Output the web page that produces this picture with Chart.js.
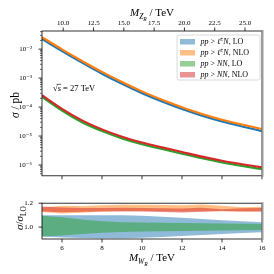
<!DOCTYPE html>
<html>
<head>
<meta charset="utf-8">
<script src="https://cdn.jsdelivr.net/npm/chart.js@4.4.1/dist/chart.umd.min.js"></script>
<style>
  html, body { margin: 0; padding: 0; background: #fff; }
  #wrap { position: relative; width: 274px; height: 274px; }
  #main { position: absolute; left: 0; top: 0; }
  #ratio { position: absolute; left: 0; top: 190px; }
</style>
</head>
<body>
<div id="wrap">
  <canvas id="main" width="274" height="190"></canvas>
  <canvas id="ratio" width="274" height="84"></canvas>
</div>
<script>
// M_WR in TeV (bottom axis); top axis shows M_ZR = zPerW * M_WR
const massWR = [5, 6, 7, 8, 9, 10, 11, 12, 13, 14, 15, 16];
const zPerW = 1.65;

// cross sections in pb
const xsecLepLO  = [2.24e-2, 8.5e-3, 3.4e-3, 1.41e-3, 6.3e-4, 3.0e-4, 1.55e-4, 8.5e-5, 5.0e-5, 3.16e-5, 2.14e-5, 1.48e-5];
const xsecLepNLO = [2.58e-2, 9.8e-3, 3.9e-3, 1.63e-3, 7.3e-4, 3.47e-4, 1.79e-4, 9.9e-5, 5.8e-5, 3.68e-5, 2.5e-5, 1.74e-5];
const xsecNNLO   = [2.23e-4, 7.6e-5, 3.0e-5, 1.48e-5, 8.3e-6, 5.2e-6, 3.55e-6, 2.45e-6, 1.7e-6, 1.23e-6, 9.3e-7, 7.2e-7];
const xsecNNNLO  = [2.57e-4, 8.7e-5, 3.47e-5, 1.7e-5, 9.5e-6, 6.0e-6, 4.07e-6, 2.82e-6, 1.95e-6, 1.41e-6, 1.07e-6, 8.3e-7];

// ratio bands sigma / sigma_LO
const bandLepLOHi  = [1.100, 1.100, 1.100, 1.100, 1.100, 1.095, 1.087, 1.078, 1.068, 1.058, 1.048, 1.040];
const bandLepLOLo  = [0.920, 0.913, 0.908, 0.906, 0.907, 0.910, 0.917, 0.925, 0.933, 0.942, 0.950, 0.957];
const bandLepNLOHi = [1.165, 1.178, 1.176, 1.183, 1.186, 1.186, 1.184, 1.183, 1.190, 1.178, 1.167, 1.170];
const bandLepNLOLo = [1.126, 1.114, 1.119, 1.130, 1.135, 1.135, 1.133, 1.130, 1.133, 1.132, 1.130, 1.130];
const bandNNLOHi   = [1.094, 1.083, 1.063, 1.049, 1.041, 1.039, 1.036, 1.034, 1.031, 1.029, 1.027, 1.025];
const bandNNLOLo   = [0.920, 0.930, 0.942, 0.952, 0.959, 0.962, 0.965, 0.967, 0.969, 0.971, 0.974, 0.976];
const bandNNNLOHi  = [1.172, 1.165, 1.160, 1.160, 1.162, 1.160, 1.158, 1.155, 1.162, 1.150, 1.158, 1.160];
const bandNNNLOLo  = [1.130, 1.125, 1.128, 1.130, 1.130, 1.130, 1.127, 1.122, 1.128, 1.135, 1.130, 1.130];

const bottomTicks = [6, 8, 10, 12, 14, 16];
const topTicks = [10, 12.5, 15, 17.5, 20, 22.5, 25];
const logTicks = [1e-2, 1e-3, 1e-4, 1e-5, 1e-6];
const ratioTicks = [1.0, 1.2];

const C = {
  blue: "#1f77b4", orange: "#ff7f0e", green: "#2ca02c", red: "#d62728"
};
const SERIF = '"Liberation Serif", "DejaVu Serif", serif';
const tickFont = { family: SERIF, size: 7 };
const noGrid = { display: false, drawTicks: false };

function pts(ys) {
  return massWR.map((m, i) => ({ x: m, y: ys[i] }));
}

const SUP = { "0": "⁰", "1": "¹", "2": "²", "3": "³", "4": "⁴", "5": "⁵", "6": "⁶", "7": "⁷", "8": "⁸", "9": "⁹", "-": "⁻" };
function logLabel(v) {
  const e = Math.round(Math.log10(v));
  return "10" + String(e).split("").map(c => SUP[c]).join("");
}

// minor ticks of the log axis
const minorLog = [];
logTicks.concat([1e-1, 1e-7]).forEach(d => {
  for (let k = 2; k <= 9; k++) minorLog.push(k * d);
});

// rich text: segments with italic / size / vertical offset
function drawRich(ctx, segs, x, y, align) {
  let w = 0;
  segs.forEach(s => {
    ctx.font = (s.i ? "italic " : "") + s.size + "px " + SERIF;
    s.w = ctx.measureText(s.t).width;
    w += s.w;
  });
  let cx = align === "center" ? x - w / 2 : x;
  ctx.textBaseline = "alphabetic";
  ctx.textAlign = "left";
  segs.forEach(s => {
    ctx.font = (s.i ? "italic " : "") + s.size + "px " + SERIF;
    ctx.fillText(s.t, cx, y + (s.dy || 0));
    if (s.bar) {
      ctx.beginPath();
      ctx.lineWidth = 0.6;
      ctx.moveTo(cx - 1, y - s.size * 0.78);
      ctx.lineTo(cx + s.w, y - s.size * 0.78);
      ctx.stroke();
    }
    cx += s.w;
  });
}

const axesDecor = {
  id: "axesDecor",
  afterDraw(chart, args, opts) {
    const { ctx, chartArea: a } = chart;
    ctx.save();
    ctx.strokeStyle = "#000";
    ctx.fillStyle = "#000";
    (opts.marks || []).forEach(m => {
      const sc = chart.scales[m.axis];
      ctx.lineWidth = m.width || 0.8;
      m.values.forEach(v => {
        const p = sc.getPixelForValue(v);
        if (m.side === "bottom" || m.side === "top") {
          if (p < a.left - 0.5 || p > a.right + 0.5) return;
        } else if (p < a.top - 0.5 || p > a.bottom + 0.5) return;
        ctx.beginPath();
        if (m.side === "bottom") { ctx.moveTo(p, a.bottom); ctx.lineTo(p, a.bottom + m.len); }
        if (m.side === "top") { ctx.moveTo(p, a.top); ctx.lineTo(p, a.top - m.len); }
        if (m.side === "left") { ctx.moveTo(a.left, p); ctx.lineTo(a.left - m.len, p); }
        ctx.stroke();
      });
    });
    ctx.lineWidth = 0.8;
    ctx.strokeRect(a.left, a.top, a.width, a.height);
    ctx.strokeStyle = "#9a9a9a";
    ctx.lineWidth = 2;
    ctx.beginPath();
    ctx.moveTo(a.right + 0.5, a.top - 1);
    ctx.lineTo(a.right + 0.5, a.bottom + 1);
    ctx.stroke();
    ctx.strokeStyle = "#000";
    (opts.texts || []).forEach(t => {
      ctx.save();
      ctx.translate(t.x, t.y);
      if (t.rot) ctx.rotate(t.rot);
      drawRich(ctx, t.segs, 0, 0, t.align);
      ctx.restore();
    });
    if (opts.legend) {
      const L = opts.legend;
      ctx.fillStyle = "rgba(255,255,255,0.8)";
      ctx.strokeStyle = "#d0d0d0";
      ctx.lineWidth = 0.8;
      ctx.beginPath();
      ctx.roundRect(L.x, L.y, L.w, L.h, 2);
      ctx.fill();
      ctx.stroke();
      L.items.forEach((it, i) => {
        const yc = L.y + 6.5 + i * 11;
        ctx.fillStyle = it.color;
        ctx.fillRect(L.x + 3, yc - 2.5, 15, 5.5);
        ctx.fillStyle = "#000";
        drawRich(ctx, it.segs, L.x + 23.5, yc + 2.6, "left");
      });
    }
    ctx.restore();
  }
};

function legendText(proc, order) {
  const segs = [{ t: "pp", i: true, size: 8 }, { t: " > ", size: 8 }];
  if (proc === "lep") {
    segs.push({ t: "ℓ", i: true, size: 8 }, { t: "±", size: 5.5, dy: -3 }, { t: "N", i: true, size: 8 });
  } else {
    segs.push({ t: "NN", i: true, size: 8 });
  }
  segs.push({ t: ", " + order, size: 8 });
  return segs;
}

const lineDs = (label, ys, color) => ({
  label: label, data: pts(ys), borderColor: color, backgroundColor: color,
  borderWidth: 2.1, pointRadius: 0, fill: false, cubicInterpolationMode: "monotone"
});

new Chart(document.getElementById("main"), {
  type: "line",
  data: {
    datasets: [
      lineDs("pp > ℓ±N, NLO", xsecLepNLO, C.orange),
      lineDs("pp > ℓ±N, LO", xsecLepLO, C.blue),
      lineDs("pp > NN, NLO", xsecNNNLO, C.red),
      lineDs("pp > NN, LO", xsecNNLO, C.green)
    ]
  },
  options: {
    responsive: false,
    animation: false,
    events: [],
    layout: { padding: { right: 12, left: 0, top: 0, bottom: 0 } },
    plugins: {
      legend: { display: false },
      tooltip: { enabled: false },
      axesDecor: {
        marks: [
          { axis: "x", side: "bottom", len: 3.5, values: bottomTicks },
          { axis: "x2", side: "top", len: 3.5, values: topTicks },
          { axis: "y", side: "left", len: 3.5, values: logTicks },
          { axis: "y", side: "left", len: 2, width: 0.6, values: minorLog }
        ],
        texts: [
          { x: 152, y: 16, align: "center", segs: [
            { t: "M", i: true, size: 11 }, { t: "Z", i: true, size: 7.5, dy: 2.5 }, { t: "R", i: true, size: 5.5, dy: 4.5 },
            { t: " / TeV", size: 11 } ] },
          { x: 19, y: 105, rot: -Math.PI / 2, align: "center", segs: [
            { t: "σ", i: true, size: 11.5 }, { t: " / pb", size: 11.5 } ] },
          { x: 53, y: 91, align: "left", segs: [
            { t: "√", size: 8.5 }, { t: "s", i: true, size: 8.5, bar: true }, { t: " = 27 TeV", size: 8.5 } ] }
        ],
        legend: {
          x: 177, y: 35, w: 83, h: 45,
          items: [
            { color: "rgba(31,119,180,0.5)", segs: legendText("lep", "LO") },
            { color: "rgba(255,127,14,0.5)", segs: legendText("lep", "NLO") },
            { color: "rgba(44,160,44,0.5)", segs: legendText("nn", "LO") },
            { color: "rgba(214,39,40,0.5)", segs: legendText("nn", "NLO") }
          ]
        }
      }
    },
    scales: {
      x: {
        type: "linear", position: "bottom", min: 5, max: 16,
        ticks: { display: false },
        grid: noGrid, border: { display: false },
        afterFit: s => { s.height = 7; }
      },
      x2: {
        type: "linear", position: "top", min: 5 * zPerW, max: 16 * zPerW,
        afterBuildTicks: s => { s.ticks = topTicks.map(v => ({ value: v })); },
        ticks: { callback: v => v.toFixed(1), font: tickFont, color: "#000", padding: 4, maxRotation: 0, autoSkip: false },
        grid: noGrid, border: { display: false },
        afterFit: s => { s.height = 31; }
      },
      y: {
        type: "logarithmic", position: "left",
        min: Math.pow(10, -6.372), max: Math.pow(10, -1.375),
        afterBuildTicks: s => { s.ticks = logTicks.map(v => ({ value: v, major: true })); },
        ticks: { callback: v => logLabel(v), font: tickFont, color: "#000", padding: 10, autoSkip: false },
        grid: noGrid, border: { display: false },
        afterFit: s => { s.width = 42; }
      }
    }
  },
  plugins: [axesDecor]
});

const bandDs = (ys, color, fill, order) => ({
  data: pts(ys), borderWidth: 0, pointRadius: 0, backgroundColor: color,
  fill: fill, order: order, tension: 0
});

new Chart(document.getElementById("ratio"), {
  type: "line",
  data: {
    datasets: [
      bandDs(bandLepLOHi, "rgba(31,119,180,0.5)", "+1", 4),
      bandDs(bandLepLOLo, "rgba(31,119,180,0.5)", false, 4),
      bandDs(bandLepNLOHi, "rgba(255,127,14,0.5)", "+1", 3),
      bandDs(bandLepNLOLo, "rgba(255,127,14,0.5)", false, 3),
      bandDs(bandNNLOHi, "rgba(44,160,44,0.5)", "+1", 2),
      bandDs(bandNNLOLo, "rgba(44,160,44,0.5)", false, 2),
      bandDs(bandNNNLOHi, "rgba(214,39,40,0.5)", "+1", 1),
      bandDs(bandNNNLOLo, "rgba(214,39,40,0.5)", false, 1)
    ]
  },
  options: {
    responsive: false,
    animation: false,
    events: [],
    layout: { padding: { right: 12, left: 0, top: 7, bottom: 0 } },
    plugins: {
      legend: { display: false },
      tooltip: { enabled: false },
      axesDecor: {
        marks: [
          { axis: "x", side: "bottom", len: 3.5, values: bottomTicks },
          { axis: "y", side: "left", len: 3.5, values: ratioTicks }
        ],
        texts: [
          { x: 152, y: 71, align: "center", segs: [
            { t: "M", i: true, size: 11 }, { t: "W", i: true, size: 7.5, dy: 2.5 }, { t: "R", i: true, size: 5.5, dy: 4.5 },
            { t: " / TeV", size: 11 } ] },
          { x: 23, y: 28, rot: -Math.PI / 2, align: "center", segs: [
            { t: "σ", i: true, size: 11 }, { t: "/", size: 11 }, { t: "σ", i: true, size: 11 },
            { t: "LO", size: 7.5, dy: 2.5 } ] }
        ]
      }
    },
    scales: {
      x: {
        type: "linear", position: "bottom", min: 5, max: 16,
        afterBuildTicks: s => { s.ticks = bottomTicks.map(v => ({ value: v })); },
        ticks: { font: tickFont, color: "#000", padding: 5, maxRotation: 0, autoSkip: false },
        grid: noGrid, border: { display: false },
        afterFit: s => { s.height = 35; }
      },
      y: {
        type: "linear", position: "left", min: 0.9, max: 1.2,
        afterBuildTicks: s => { s.ticks = ratioTicks.map(v => ({ value: v })); },
        ticks: { callback: v => v.toFixed(1), font: tickFont, color: "#000", padding: 9, autoSkip: false },
        grid: noGrid, border: { display: false },
        afterFit: s => { s.width = 42; }
      }
    }
  },
  plugins: [axesDecor]
});
</script>
</body>
</html>
